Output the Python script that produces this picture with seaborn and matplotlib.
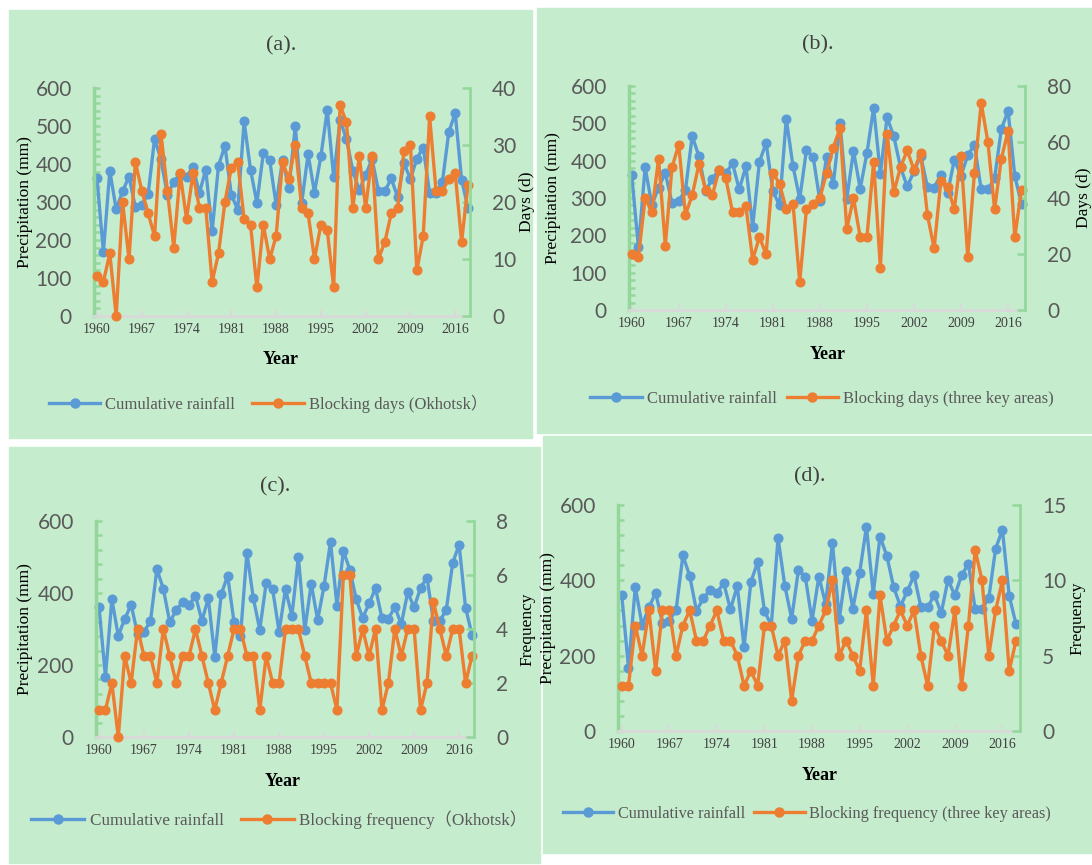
import matplotlib
matplotlib.use('Agg')
import matplotlib.pyplot as plt
import seaborn as sns
from matplotlib.lines import Line2D
from matplotlib.patches import Rectangle
from matplotlib.ticker import MultipleLocator

years = list(range(1960, 2019))
rainfall = [362, 168, 382, 281, 328, 367, 286, 293, 321, 466, 412, 319, 352, 375, 366, 393,
            323, 385, 223, 396, 448, 319, 280, 512, 385, 298, 428, 410, 293, 410, 337, 500,
            297, 426, 325, 420, 542, 365, 516, 465, 382, 331, 371, 413, 330, 328, 362, 313,
            402, 360, 414, 443, 323, 323, 353, 484, 534, 359, 284]
days_okhotsk = [7, 6, 11, 0, 20, 10, 27, 22, 18, 14, 32, 22, 12, 25, 17, 25, 19, 19, 6, 11,
                20, 26, 27, 17, 16, 5, 16, 10, 14, 27, 24, 30, 19, 18, 10, 16, 15, 5, 37, 34,
                19, 28, 19, 28, 10, 13, 18, 19, 29, 30, 8, 14, 35, 22, 22, 24, 25, 13, 23]
days_key = [20, 19, 40, 35, 54, 23, 51, 59, 34, 41, 52, 43, 41, 50, 47, 35, 35, 37, 18, 26,
            20, 49, 45, 36, 38, 10, 36, 38, 40, 49, 58, 65, 29, 40, 26, 26, 53, 15, 63, 42,
            51, 57, 50, 56, 34, 22, 46, 44, 36, 55, 19, 49, 74, 60, 36, 54, 64, 26, 43]
freq_okhotsk = [1, 1, 2, 0, 3, 2, 4, 3, 3, 2, 4, 3, 2, 3, 3, 4, 3, 2, 1, 2, 3, 4, 4, 3, 3, 1,
                3, 2, 2, 4, 4, 4, 3, 2, 2, 2, 2, 1, 6, 6, 3, 4, 3, 4, 1, 2, 4, 3, 4, 4, 1, 2,
                5, 4, 3, 4, 4, 2, 3]
freq_key = [3, 3, 7, 5, 8, 4, 8, 8, 5, 7, 8, 6, 6, 7, 8, 6, 6, 5, 3, 4, 3, 7, 7, 5, 6, 2, 5,
            6, 6, 7, 8, 10, 5, 6, 5, 4, 8, 3, 9, 6, 7, 8, 7, 8, 5, 3, 7, 6, 5, 8, 3, 7, 12,
            10, 5, 8, 10, 4, 6]
year_ticks = list(range(1960, 2017, 7))

W, H = 1092, 865
BLUE = '#5b9bd5'
ORANGE = '#ed7d31'
GREEN = '#93d89a'
GRAY = '#d9d9d9'
BG = '#c6ecce'
SERIF = ['Liberation Serif', 'Noto Sans CJK SC']
SANS = 'Lato'

panels = [
    dict(tag='(a).', bg=(9, 532, 10, 438), box=(94, 470, 88, 316), x1960=97, x2018=468,
         lmaj=100, lmin=20, rmax=40, rmaj=10, right=days_okhotsk, rlabel='Days (d)',
         name='Blocking days (Okhotsk\uff09', title=(281, 46), year=(281, 360),
         leg=(268, 404), legsize=12, legsp=1.0, llab=25, rlab=527),
    dict(tag='(b).', bg=(537, 1092, 8, 433), box=(629, 1025, 86, 310), x1960=631.7, x2018=1021.5,
         lmaj=100, lmin=20, rmax=80, rmaj=20, right=days_key, rlabel='Days (d)',
         name='Blocking days (three key areas)', title=(818, 45), year=(828, 355),
         leg=(822, 399), legsize=12, legsp=0.6, llab=553, rlab=1084),
    dict(tag='(c).', bg=(9, 540, 447, 863), box=(96, 474, 521, 737), x1960=99, x2018=472,
         lmaj=200, lmin=40, rmax=8, rmaj=2, right=freq_okhotsk, rlabel='Frequency',
         name='Blocking frequency\uff08Okhotsk\uff09', title=(275, 487), year=(283, 781),
         leg=(279, 820), legsize=12.3, legsp=1.0, llab=25, rlab=527),
    dict(tag='(d).', bg=(543, 1092, 436, 853), box=(618, 1020, 505, 731), x1960=621.7, x2018=1016,
         lmaj=200, lmin=40, rmax=15, rmaj=5, right=freq_key, rlabel='Frequency',
         name='Blocking frequency (three key areas)', title=(810, 477), year=(820, 776),
         leg=(807, 814), legsize=11.7, legsp=0.55, llab=548, rlab=1077),
]


def fx(x):
    return x / W


def fy(y):
    return 1 - y / H


def draw_panel(fig, p):
    x0, x1, y0, y1 = p['bg']
    fig.add_artist(Rectangle((fx(x0), fy(y1)), (x1 - x0) / W, (y1 - y0) / H,
                             transform=fig.transFigure, color=BG, zorder=0))
    bx0, bx1, by0, by1 = p['box']
    ax = fig.add_axes([fx(bx0), fy(by1), (bx1 - bx0) / W, (by1 - by0) / H])
    ax.set_facecolor('none')
    sns.lineplot(x=years, y=rainfall, ax=ax, color=BLUE, marker='o', markersize=6.5,
                 markeredgecolor=BLUE, linewidth=2.4, legend=False)
    ax2 = ax.twinx()
    sns.lineplot(x=years, y=p['right'], ax=ax2, color=ORANGE, marker='o', markersize=6.5,
                 markeredgecolor=ORANGE, linewidth=2.4, legend=False)
    for a in (ax, ax2):
        for ln in a.lines:
            ln.set_clip_on(False)

    ppy = (p['x2018'] - p['x1960']) / 58
    ax.set_xlim(1960 - (p['x1960'] - bx0) / ppy, 2018 + (bx1 - p['x2018']) / ppy)
    ax.set_ylim(0, 600)
    ax2.set_ylim(0, p['rmax'])
    ax.set_yticks(range(0, 601, p['lmaj']))
    ax.yaxis.set_minor_locator(MultipleLocator(p['lmin']))
    ax2.set_yticks(range(0, p['rmax'] + 1, p['rmaj']))
    ax.set_xticks(year_ticks)
    ax.set_xlabel('')
    ax.set_ylabel('')
    ax2.set_ylabel('')

    for side in ('top', 'right'):
        ax.spines[side].set_visible(False)
    for side in ('top', 'left', 'bottom'):
        ax2.spines[side].set_visible(False)
    ax.spines['left'].set_color(GREEN)
    ax.spines['left'].set_linewidth(2.5)
    ax.spines['bottom'].set_color(GRAY)
    ax.spines['bottom'].set_linewidth(2)
    ax2.spines['right'].set_color(GREEN)
    ax2.spines['right'].set_linewidth(2)

    ax.tick_params(axis='y', which='both', direction='in', length=4, width=1.8, color=GREEN,
                   pad=16, labelsize=15, labelcolor='#595959')
    ax.tick_params(axis='x', direction='in', length=4, width=1.5, color=GRAY, pad=5,
                   labelsize=10, labelcolor='#404040')
    ax2.tick_params(axis='y', direction='in', length=6, width=1.8, color=GREEN, pad=16,
                    labelsize=15, labelcolor='#595959')
    for lbl in ax.get_yticklabels() + ax2.get_yticklabels():
        lbl.set_fontfamily(SANS)
    for lbl in ax.get_xticklabels():
        lbl.set_fontfamily(SERIF)

    tx, ty = p['title']
    fig.text(fx(tx), fy(ty), p['tag'], ha='center', va='center', fontsize=16,
             family=SERIF, color='#404040')
    yx, yy = p['year']
    fig.text(fx(yx), fy(yy), 'Year', ha='center', va='center', fontsize=13,
             family=SERIF, fontweight='bold', color='black')
    mid = fy((by0 + by1) / 2)
    fig.text(fx(p['llab']), mid, 'Precipitation (mm)', ha='center', va='center',
             rotation=90, fontsize=12.5, family=SERIF)
    fig.text(fx(p['rlab']), mid, p['rlabel'], ha='center', va='center',
             rotation=90, fontsize=12.5, family=SERIF)

    handles = [Line2D([], [], color=BLUE, marker='o', markersize=6.5, linewidth=2.4),
               Line2D([], [], color=ORANGE, marker='o', markersize=6.5, linewidth=2.4)]
    lx, ly = p['leg']
    leg = fig.legend(handles, ['Cumulative rainfall', p['name']], loc='center',
                     bbox_to_anchor=(fx(lx), fy(ly)), ncol=2, frameon=False,
                     handlelength=3.1, handletextpad=0.3, columnspacing=p['legsp'],
                     borderpad=0.1, prop={'family': SERIF, 'size': p['legsize']})
    for t in leg.get_texts():
        t.set_color('#595959')


fig = plt.figure(figsize=(W / 100, H / 100), dpi=100)
fig.patch.set_facecolor('white')
for p in panels:
    draw_panel(fig, p)
fig.savefig('out.png', dpi=100, facecolor='white')
